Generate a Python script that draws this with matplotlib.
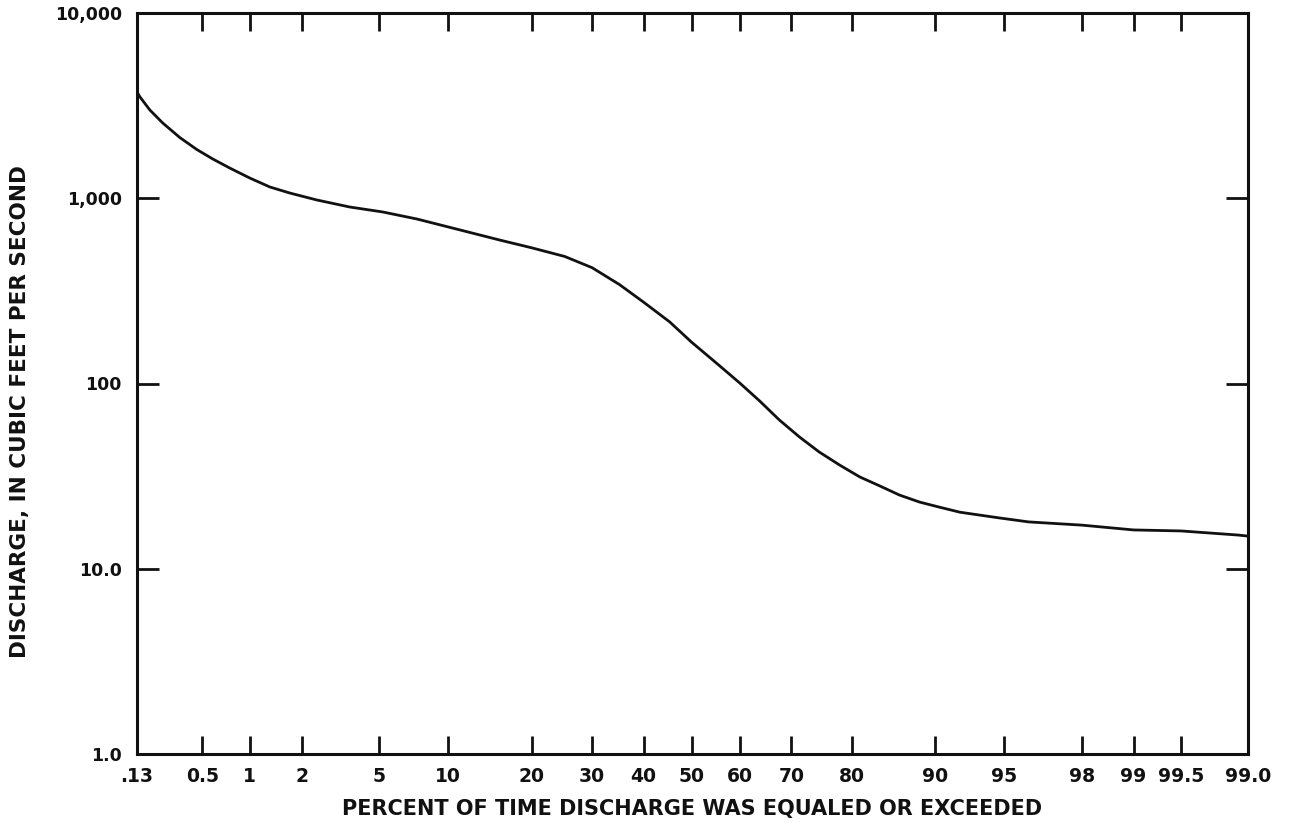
import numpy as np
import matplotlib
matplotlib.use("Agg")
import matplotlib.pyplot as plt
from matplotlib.ticker import FixedLocator, FixedFormatter, NullLocator
from statistics import NormalDist

# ---- data ----
percent_exceeded = [0.175, 0.184, 0.217, 0.268, 0.352, 0.459, 0.585, 0.751, 1.0, 1.32,
                    1.72, 2.42, 3.59, 5.20, 7.39, 10.0, 15.6, 20.0, 25.2, 30.0,
                    35.2, 40.0, 45.4, 50.0, 51.7, 55.9, 60.0, 64.0, 67.8, 71.5,
                    74.9, 78.2, 81.2, 83.9, 86.3, 88.5, 90.4, 92.1, 93.5, 94.75,
                    96.2, 98.0, 99.0, 99.5, 99.80, 99.83]
discharge_cfs = [3746, 3521, 2995, 2548, 2128, 1833, 1629, 1456, 1286, 1150,
                 1067, 979, 897, 843, 773, 700, 595, 540, 485, 422,
                 342, 275, 215, 167, 153.5, 124.3, 100.6, 80.4, 63.5, 51.4,
                 42.7, 36.3, 31.3, 28.0, 25.0, 22.9, 21.5, 20.2, 19.5, 18.8,
                 17.9, 17.2, 16.2, 16.0, 15.2, 15.0]

x_tick_values = [0.175, 0.5, 1, 2, 5, 10, 20, 30, 40, 50, 60, 70, 80, 90, 95, 98, 99, 99.5, 99.83]
x_tick_labels = [".13", "0.5", "1", "2", "5", "10", "20", "30", "40", "50", "60",
                 "70", "80", "90", "95", "98", "99", "99.5", "99.0"]
y_tick_values = [1, 10, 100, 1000, 10000]
y_tick_labels = ["1.0", "10.0", "100", "1,000", "10,000"]

# ---- normal probability scale ----
_nd = NormalDist()
_ppf = np.vectorize(_nd.inv_cdf, otypes=[float])
_cdf = np.vectorize(_nd.cdf, otypes=[float])

def prob_forward(p):
    p = np.clip(np.asarray(p, dtype=float) / 100.0, 1e-9, 1 - 1e-9)
    return _ppf(p)

def prob_inverse(z):
    return _cdf(np.asarray(z, dtype=float)) * 100.0

plt.rcParams['font.family'] = ['DejaVu Sans']

fig = plt.figure(figsize=(12.9, 8.31), dpi=100)
ax = fig.add_axes([137/1290, 1 - 754/831, (1248-137)/1290, (754-13)/831])

ax.plot(percent_exceeded, discharge_cfs, color='#111111', lw=2.0,
        solid_capstyle='round', solid_joinstyle='round')

ax.set_xscale('function', functions=(prob_forward, prob_inverse))
ax.set_yscale('log')
ax.set_xlim(0.175, 99.83)
ax.set_ylim(1, 10000)

ax.xaxis.set_major_locator(FixedLocator(x_tick_values))
ax.xaxis.set_major_formatter(FixedFormatter(x_tick_labels))
ax.xaxis.set_minor_locator(NullLocator())
ax.yaxis.set_major_locator(FixedLocator(y_tick_values))
ax.yaxis.set_major_formatter(FixedFormatter(y_tick_labels))
ax.yaxis.set_minor_locator(NullLocator())

for s in ax.spines.values():
    s.set_linewidth(2.2)
    s.set_color('#111111')

ax.tick_params(axis='x', which='major', direction='in', top=True, bottom=True,
               length=13, width=2.0, pad=9, labelsize=13.5, colors='#111111')
ax.tick_params(axis='y', which='major', direction='in', left=True, right=True,
               length=16, width=2.0, pad=11, labelsize=12.5, colors='#111111')
for lab in ax.get_xticklabels() + ax.get_yticklabels():
    lab.set_fontweight('bold')

ax.set_xlabel("PERCENT OF TIME DISCHARGE WAS EQUALED OR EXCEEDED",
              fontsize=15, fontweight='bold', labelpad=10, color='#111111')
ax.set_ylabel("DISCHARGE, IN CUBIC FEET PER SECOND",
              fontsize=15.5, fontweight='bold', color='#111111')
ax.yaxis.set_label_coords(-0.0963, 0.4615)

fig.savefig("out.png", dpi=100)
